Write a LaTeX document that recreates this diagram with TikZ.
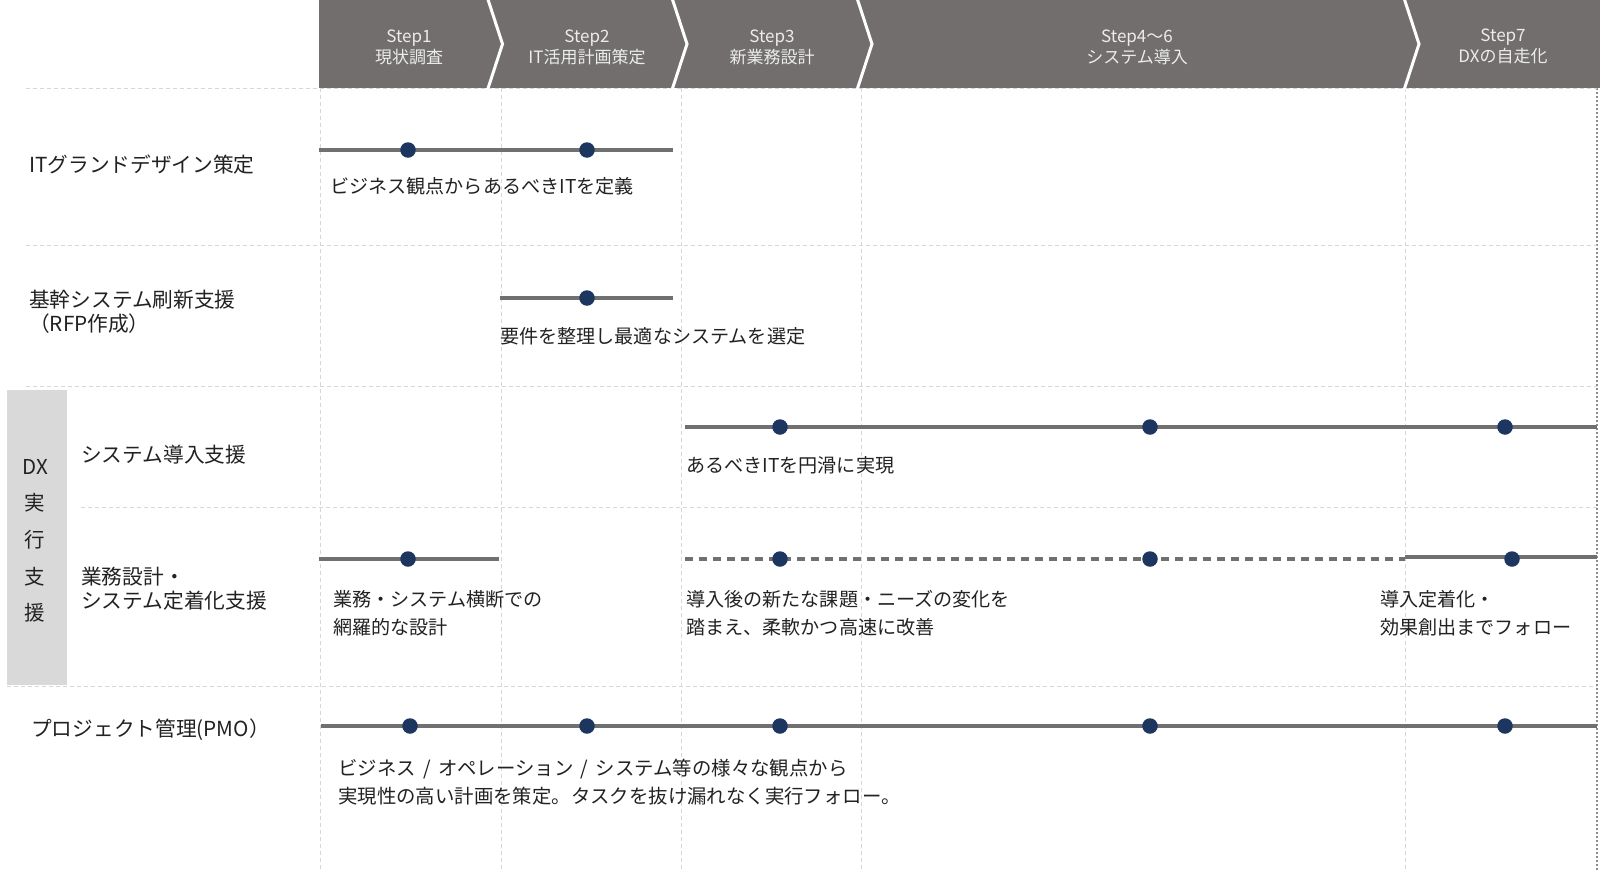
\documentclass[tikz,border=0pt]{standalone}
\usepackage{fontspec}
\setmainfont{Noto Sans CJK JP}
\definecolor{hdrgray}{RGB}{113,110,109}
\definecolor{hdrtxt}{RGB}{236,236,236}
\definecolor{txt}{RGB}{34,34,34}
\definecolor{navy}{RGB}{28,54,96}
\definecolor{linegray}{RGB}{112,112,112}
\definecolor{gridgray}{RGB}{215,215,215}
\definecolor{edgegray}{RGB}{140,140,140}
\definecolor{boxgray}{RGB}{217,217,217}
\tikzset{
  lbl/.style={font=\fontsize{20.7pt}{24pt}\selectfont, text=txt, anchor=west, inner sep=0pt, align=left},
  desc/.style={font=\fontsize{19.1pt}{27.5pt}\selectfont, text=txt, anchor=west, inner sep=0pt, align=left},
  descb/.style={font=\fontsize{19.4pt}{28.5pt}\selectfont, text=txt, anchor=west, inner sep=0pt, align=left},
  hdr/.style={font=\fontsize{17pt}{21pt}\selectfont, text=hdrtxt, inner sep=0pt, align=center},
  vlbl/.style={font=\fontsize{20.5pt}{24pt}\selectfont, text=txt, inner sep=0pt},
  tdot/.style={circle, fill=navy, minimum size=15.5pt, inner sep=0pt},
  tline/.style={line width=3.5pt, draw=linegray},
  tdash/.style={line width=3.5pt, draw=linegray, dash pattern=on 8pt off 6pt},
  gridline/.style={draw=gridgray, line width=1pt, dash pattern=on 4pt off 3pt},
  edgeline/.style={draw=edgegray, line width=2pt, dash pattern=on 2pt off 2pt},
  sep/.style={draw=white, line width=3pt}
}
\begin{document}
\begin{tikzpicture}[x=1pt,y=-1pt]
\useasboundingbox (0,0) rectangle (1600,870);
\fill[white] (0,0) rectangle (1600,870);

% grid
\foreach \xx in {320,501,681,861,1405}{\draw[gridline] (\xx,88) -- (\xx,870);}
\draw[edgeline] (1597,88) -- (1597,870);
\draw[gridline] (26,88) -- (1597,88);
\draw[gridline] (26,245) -- (1597,245);
\draw[gridline] (26,386) -- (1597,386);
\draw[gridline] (81,507) -- (1597,507);
\draw[gridline] (7,686) -- (1597,686);

% header
\fill[hdrgray] (319,0) rectangle (1600,88);
\foreach \xx in {487.5,672,857,1404}{\draw[sep] (\xx,-2) -- (\xx+15,44) -- (\xx,90);}
\node[hdr] (h1) at (409,47.5) {Step1\\現状調査};
\node[hdr] (h2) at (587,47.5) {Step2\\IT活用計画策定};
\node[hdr] (h3) at (772,47.5) {Step3\\新業務設計};
\node[hdr] (h4) at (1137,47.5) {Step4〜6\\システム導入};
\node[hdr] (h5) at (1503,46.5) {Step7\\DXの自走化};

% DX box
\fill[boxgray] (7,390) rectangle (67,685);
\node[vlbl] (dx0) at (35,467) {DX};
\node[vlbl] (dx1) at (35,503) {実};
\node[vlbl] (dx2) at (35,540) {行};
\node[vlbl] (dx3) at (35,577) {支};
\node[vlbl] (dx4) at (35,613) {援};

% left labels
\node[lbl] (l1) at (29,165) {ITグランドデザイン策定};
\node[lbl] (l2) at (29,312) {基幹システム刷新支援\\（RFP作成）};
\node[lbl] (l3) at (81,455) {システム導入支援};
\node[lbl] (l4) at (81,589) {業務設計・\\システム定着化支援};
\node[lbl] (l5) at (31,730) {プロジェクト管理(PMO）};

% row 1
\coordinate (r1s) at (319,150);
\coordinate (r1e) at (673,150);
\draw[tline] (r1s) -- (r1e);
\node[tdot] (d11) at (408,150) {};
\node[tdot] (d12) at (587,150) {};
\node[desc] (t1) at (330,186) {ビジネス観点からあるべきITを定義};

% row 2
\coordinate (r2s) at (500,298);
\coordinate (r2e) at (673,298);
\draw[tline] (r2s) -- (r2e);
\node[tdot] (d21) at (587,298) {};
\node[desc] (t2) at (500,336) {要件を整理し最適なシステムを選定};

% row 3
\coordinate (r3s) at (685,427);
\coordinate (r3e) at (1597,427);
\draw[tline] (r3s) -- (r3e);
\node[tdot] (d31) at (780,427) {};
\node[tdot] (d32) at (1150,427) {};
\node[tdot] (d33) at (1505,427) {};
\node[desc] (t3) at (686,465) {あるべきITを円滑に実現};

% row 4
\coordinate (r4as) at (319,559);
\coordinate (r4ae) at (499,559);
\draw[tline] (r4as) -- (r4ae);
\node[tdot] (d41) at (408,559) {};
\coordinate (r4bs) at (685,559);
\coordinate (r4be) at (1405,559);
\draw[tdash] (r4bs) -- (r4be);
\node[tdot] (d42) at (780,559) {};
\node[tdot] (d43) at (1150,559) {};
\coordinate (r4cs) at (1405,557);
\coordinate (r4ce) at (1597,557);
\draw[tline] (r4cs) -- (r4ce);
\node[tdot] (d44) at (1512,559) {};
\node[desc] (t41) at (333,613) {業務・システム横断での\\網羅的な設計};
\node[desc] (t42) at (686,613) {導入後の新たな課題・ニーズの変化を\\踏まえ、柔軟かつ高速に改善};
\node[desc] (t43) at (1380,613) {導入定着化・\\効果創出までフォロー};

% row 5
\coordinate (r5s) at (321,726);
\coordinate (r5e) at (1597,726);
\draw[tline] (r5s) -- (r5e);
\node[tdot] (d51) at (410,726) {};
\node[tdot] (d52) at (587,726) {};
\node[tdot] (d53) at (780,726) {};
\node[tdot] (d54) at (1150,726) {};
\node[tdot] (d55) at (1505,726) {};
\node[descb] (t5) at (338,782) {ビジネス\hspace{3pt} / \hspace{3pt}オペレーション\hspace{3pt} / \hspace{3pt}システム等の様々な観点から\\実現性の高い計画を策定。タスクを抜け漏れなく実行フォロー。};
\end{tikzpicture}
\end{document}
